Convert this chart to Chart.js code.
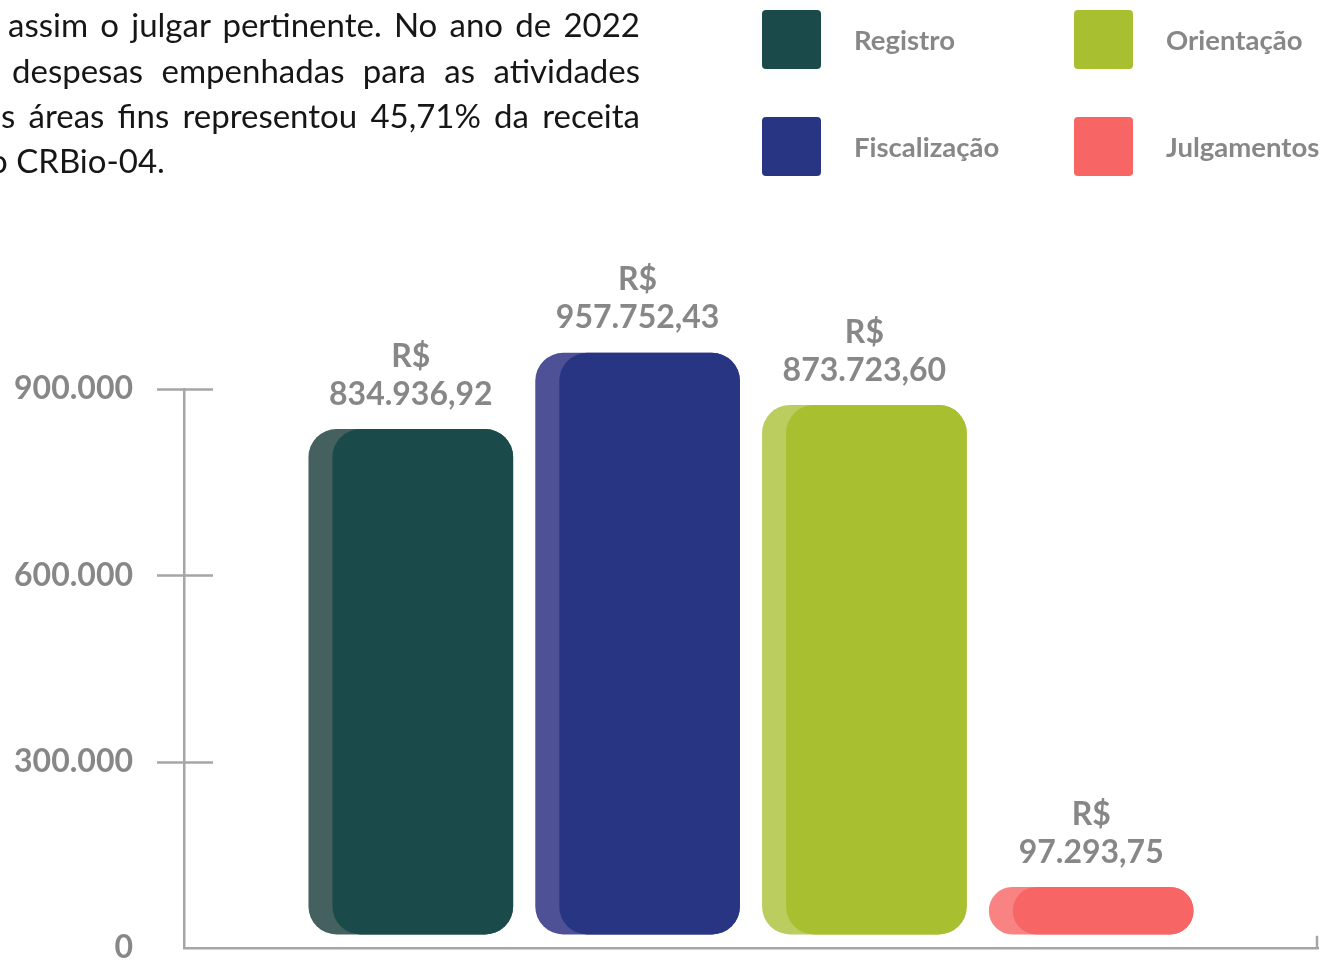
<!DOCTYPE html>
<html lang="pt-BR">
<head>
<meta charset="utf-8">
<script src="https://cdn.jsdelivr.net/npm/chart.js@4.4.1/dist/chart.umd.min.js"></script>
<style>
  html, body { margin: 0; padding: 0; background: #fff; overflow: hidden; }
  body { width: 1321px; height: 961px; position: relative; }
  #miGrafica { position: absolute; left: 0; top: 0; }
  .linha {
    position: absolute; height: 45px; line-height: 45px;
    font-family: Lato, "Open Sans", sans-serif; font-size: 33px; color: #161616;
    white-space: nowrap; text-align: justify; text-align-last: justify;
  }
  .leg-caixa { position: absolute; width: 59px; height: 59px; border-radius: 4px; }
  .leg-texto {
    position: absolute; font-family: Lato, sans-serif; font-weight: 700;
    font-size: 27.5px; color: #878787; line-height: 59px; white-space: nowrap;
  }
</style>
</head>
<body>
<canvas id="miGrafica" width="1321" height="1018"></canvas>

<div class="linha" style="left:8px; top:2px; width:632px;">assim o julgar pertinente. No ano de 2022</div>
<div class="linha" style="left:12px; top:48px; width:628px;">despesas empenhadas para as atividades</div>
<div class="linha" style="left:1px; top:93px; width:639px;">s áreas fins representou 45,71% da receita</div>
<div class="linha" style="left:-11px; top:138px; text-align:left; text-align-last:left;">o CRBio-04.</div>

<div id="leyenda"></div>

<script>
// Datos del gráfico
const categorias = ['Registro', 'Fiscalização', 'Orientação', 'Julgamentos'];
const valores = [834936.92, 957752.43, 873723.60, 97293.75];
const ticksY = [0, 300000, 600000, 900000];

const coresFrente = ['#1b4a4a', '#283583', '#a8c030', '#f76565'];
const coresFundo = ['#44615f', '#4f5196', '#bacd5e', '#f98282'];
const cinza = '#878787';
const corEixo = '#a6a6a6';

// formato 834.936,92
function formatoBR(v, dec) {
  const partes = v.toFixed(dec).split('.');
  partes[0] = partes[0].replace(/\B(?=(\d{3})+(?!\d))/g, '.');
  return partes.join(',');
}

// Leyenda en HTML (2 columnas)
const leyenda = document.getElementById('leyenda');
categorias.forEach((cat, i) => {
  const col = Math.floor(i / 2), fila = i % 2;
  const x = 762 + col * 312, y = 10 + fila * 107;
  const caixa = document.createElement('div');
  caixa.className = 'leg-caixa';
  caixa.style.left = x + 'px';
  caixa.style.top = y + 'px';
  caixa.style.background = coresFrente[i];
  const txt = document.createElement('div');
  txt.className = 'leg-texto';
  txt.style.left = (x + 92) + 'px';
  txt.style.top = y + 'px';
  txt.textContent = cat;
  leyenda.appendChild(caixa);
  leyenda.appendChild(txt);
});

// huecos en los extremos para centrar las barras como en el original
const etiquetas = [''].concat(categorias, ['']);
const datos = [null].concat(valores, [null]);
const fundo = [null].concat(coresFundo, [null]);
const frente = [null].concat(coresFrente, [null]);

// Desplaza la barra del frente un poco a la derecha
const desplazarFrente = {
  id: 'desplazarFrente',
  afterDatasetsUpdate(chart) {
    const meta = chart.getDatasetMeta(1);
    meta.data.forEach(el => { el.x += 12; });
  }
};

// Valores encima de las barras y cruces del eje
const extras = {
  id: 'extras',
  afterDatasetsDraw(chart) {
    const ctx = chart.ctx;
    const meta = chart.getDatasetMeta(0);
    ctx.save();
    ctx.fillStyle = cinza;
    ctx.font = 'bold 32px Lato';
    ctx.textAlign = 'center';
    ctx.textBaseline = 'middle';
    meta.data.forEach((el, i) => {
      const v = datos[i];
      if (v === null) return;
      ctx.fillText('R$', el.x, el.y - 73);
      ctx.fillText(formatoBR(v, 2), el.x, el.y - 35);
    });
    ctx.restore();
  },
  afterDraw(chart) {
    const ctx = chart.ctx;
    const y = chart.scales.y;
    const area = chart.chartArea;
    ctx.save();
    ctx.strokeStyle = corEixo;
    ctx.lineWidth = 2.5;
    ticksY.forEach(t => {
      if (t === 0) return;
      const py = Math.round(y.getPixelForValue(t)) + 0.5;
      ctx.beginPath();
      ctx.moveTo(area.left - 27, py);
      ctx.lineTo(area.left + 29, py);
      ctx.stroke();
    });
    ctx.beginPath();
    ctx.moveTo(area.right - 1, area.bottom);
    ctx.lineTo(area.right - 1, area.bottom - 12);
    ctx.stroke();
    ctx.restore();
  }
};

const ctx = document.getElementById('miGrafica').getContext('2d');
new Chart(ctx, {
  type: 'bar',
  data: {
    labels: etiquetas,
    datasets: [{
      label: 'fundo',
      data: datos,
      backgroundColor: fundo,
      barThickness: 204,
      borderRadius: 28,
      borderSkipped: false,
      base: 22000,
      clip: false,
      grouped: false,
      order: 2
    }, {
      label: 'frente',
      data: datos,
      backgroundColor: frente,
      barThickness: 180,
      borderRadius: 28,
      borderSkipped: false,
      base: 22000,
      clip: false,
      grouped: false,
      order: 1
    }]
  },
  options: {
    responsive: false,
    animation: false,
    layout: { padding: { top: 389, right: 3, bottom: 37, left: 0 } },
    plugins: {
      legend: { display: false },
      tooltip: { enabled: false }
    },
    scales: {
      x: {
        offset: false,
        grid: { display: false, drawTicks: false },
        border: { display: true, color: corEixo, width: 2.5 },
        ticks: { display: false }
      },
      y: {
        min: 0,
        max: 900000,
        afterFit: s => { s.width = 184; },
        afterBuildTicks: s => { s.ticks = ticksY.map(v => ({ value: v })); },
        grid: { display: false, drawTicks: false },
        border: { display: true, color: corEixo, width: 2.5 },
        ticks: {
          padding: 51,
          color: cinza,
          font: { family: 'Lato', weight: 'bold', size: 32 },
          callback: v => formatoBR(v, 0)
        }
      }
    }
  },
  plugins: [desplazarFrente, extras]
});
</script>
</body>
</html>
